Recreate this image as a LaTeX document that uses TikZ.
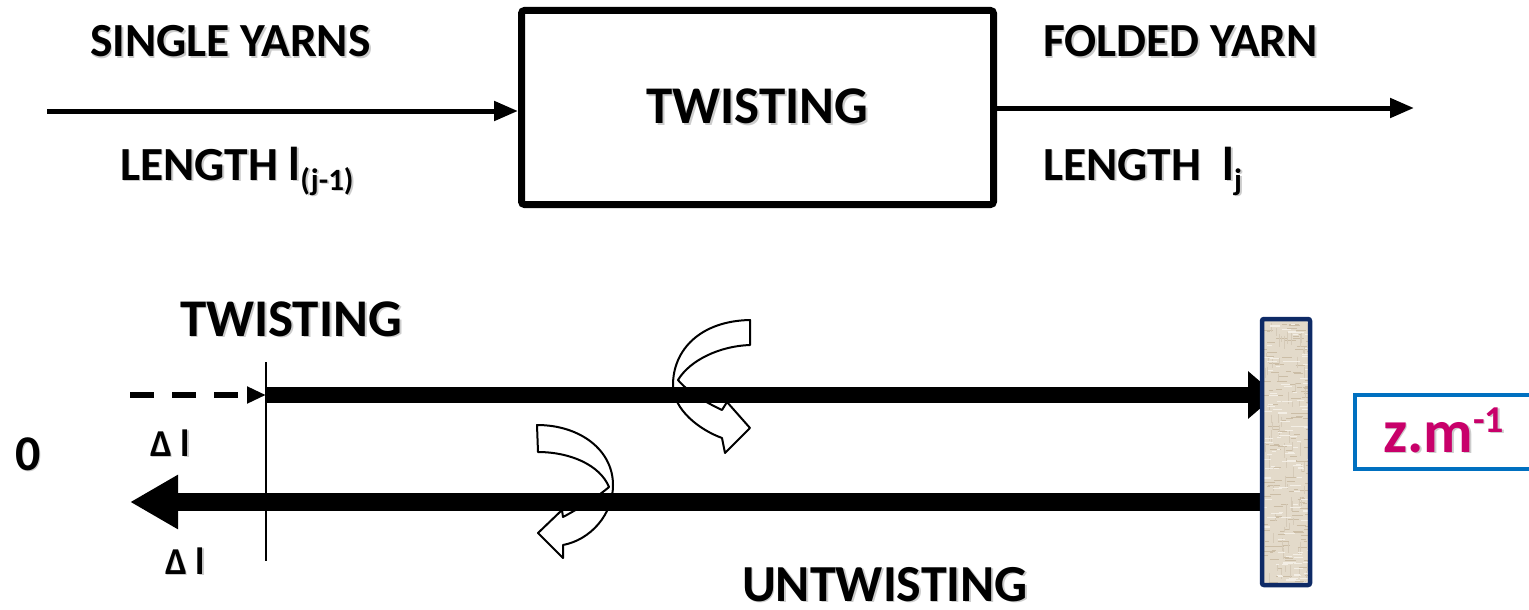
\documentclass[tikz,border=0pt]{standalone}
\usepackage{fontspec}
\setmainfont{Carlito}
\usepackage{graphicx}
\usetikzlibrary{arrows.meta}

\definecolor{postfill}{HTML}{E3DACA}
\definecolor{postdark}{HTML}{CBBDA6}
\definecolor{postlight}{HTML}{F3EEE5}
\definecolor{postedge}{HTML}{0E2A66}
\definecolor{rateedge}{HTML}{0070C0}
\definecolor{ratetext}{HTML}{C8006A}

% bold text with a soft grey drop shadow
\newcommand{\shtext}[1]{\makebox[0pt][l]{\kern1.8pt\raisebox{-1.8pt}{\textcolor{black!20}{#1}}}#1}

\tikzset{
  lbl/.style={inner sep=0pt, outer sep=0pt, anchor=base west,
              font=\bfseries\fontsize{47.5}{52}\selectfont},
  flowline/.style={line width=5pt, -{Triangle[length=24pt,width=19pt]}},
  procbox/.style={draw, line width=7pt, rounded corners=3pt, inner sep=0pt,
                  minimum width=472pt, minimum height=194pt,
                  font=\bfseries\fontsize{53}{58}\selectfont},
  yarnline/.style={line width=16pt},
  dashline/.style={line width=5.5pt, dash pattern=on 24pt off 18pt,
                   -{Triangle[length=19pt,width=16pt]}},
  twistarrow/.style={draw=black, fill=white, line width=2pt, line join=round},
  post/.style={fill=postfill, inner sep=0pt, outer sep=0pt,
               minimum width=48pt, minimum height=266pt},
  ratebox/.style={draw=rateedge, line width=4pt, inner sep=0pt, outer sep=0pt,
                  minimum width=190pt, minimum height=74pt},
}

\begin{document}
\begin{tikzpicture}[x=1pt, y=-1pt]
\useasboundingbox (0,0) rectangle (1529,610);

% ---------- upper block diagram ----------
\node[procbox] (box) at (757.5,107.5) {\shtext{TWISTING}};

\coordinate (in0) at (47,111);
\coordinate (out1) at (1414,108);
\draw[flowline] (in0) -- (box.west |- in0);
\draw[flowline] (box.east |- out1) -- (out1);

\node[lbl] (single) at (90,57) {\shtext{SINGLE YARNS}};
\node[lbl] (lenin) at (120,180)
  {\shtext{LENGTH l\raisebox{-10pt}{\fontsize{31}{31}\selectfont(j-1)}}};
\node[lbl] (folded) at (1043,57) {\shtext{FOLDED YARN}};
\node[lbl] (lenout) at (1043,180)
  {\shtext{LENGTH\ \ l\raisebox{-10pt}{\fontsize{31}{31}\selectfont j}}};

% ---------- lower sketch: twisting / untwisting ----------
% twist symbols (drawn first, the yarns pass over them)
\draw[twistarrow] (750,320) .. controls (700,321) and (673,350) .. (673,385)
  .. controls (673,410) and (700,430) .. (722,438)
  -- (725,453) -- (750,428) -- (727,402) -- (722,410)
  .. controls (705,402) and (688,392) .. (678,380)
  .. controls (690,360) and (720,346) .. (750,345) -- cycle;
\draw[twistarrow] (537,425) .. controls (580,425) and (613,450) .. (613,485)
  .. controls (613,515) and (590,540) .. (563,545)
  -- (563,558) -- (538,533) -- (562,510) -- (563,517)
  .. controls (580,508) and (600,495) .. (609,487)
  .. controls (600,465) and (570,452) .. (538,452) -- cycle;

% the fixed end
\node[post] (post) at (1286,452) {};

\coordinate (t0) at (266,395);
\coordinate (d0) at (130,395);
\coordinate (u1) at (130,502);
\coordinate (v0) at (266,362);
\coordinate (v1) at (266,561);

\draw[yarnline, -{Triangle[length=28pt,width=46pt]}, shorten >=-14pt]
  (t0) -- (post.west |- t0);
\draw[line width=18pt, -{Triangle[length=48pt,width=51pt]}]
  (post.west |- u1) -- (u1);
\draw[dashline] (d0) -- (t0);
\draw[line width=2pt] (v0) -- (v1);

% canvas texture of the fixed end
\begin{scope}
  \clip ([xshift=2pt,yshift=2pt]post.south west)
        rectangle ([xshift=-2pt,yshift=-2pt]post.north east);
  \fill[postfill] (post.south west) rectangle (post.north east);
  \pgfmathsetseed{17}
  \foreach \i in {1,...,150}{
    \pgfmathsetmacro\rx{1262+46*rnd}
    \pgfmathsetmacro\ry{319+266*rnd}
    \pgfmathsetmacro\rl{3+9*rnd}
    \draw[postdark, line width=0.9pt] (\rx,\ry) -- ++(\rl,0);
  }
  \foreach \i in {1,...,80}{
    \pgfmathsetmacro\rx{1262+46*rnd}
    \pgfmathsetmacro\ry{319+266*rnd}
    \pgfmathsetmacro\rl{4+10*rnd}
    \draw[postdark!80, line width=0.9pt] (\rx,\ry) -- ++(0,\rl);
  }
  \foreach \i in {1,...,120}{
    \pgfmathsetmacro\rx{1262+46*rnd}
    \pgfmathsetmacro\ry{319+266*rnd}
    \pgfmathsetmacro\rl{3+8*rnd}
    \draw[postlight, line width=1.1pt] (\rx,\ry) -- ++(\rl,0);
  }
\end{scope}
\draw[postedge, line width=4.5pt, rounded corners=2pt]
  (post.south west) rectangle (post.north east);

% rate box
\node[ratebox] (rate) at (1450,432) {};
\node[lbl, text=ratetext, font=\bfseries\fontsize{61}{66}\selectfont] (ratelbl) at (1383,452)
  {\shtext{z.m\raisebox{20pt}{\fontsize{38}{38}\selectfont -1}}};

% labels
\node[lbl, font=\bfseries\fontsize{53}{58}\selectfont] (twl) at (180,336)
  {\shtext{TWISTING}};
\node[lbl, font=\bfseries\fontsize{52}{56}\selectfont] (untw) at (742,601)
  {\shtext{UNTWISTING}};
\node[lbl, font=\bfseries\fontsize{38}{42}\selectfont] (dl1) at (150,456)
  {\shtext{Δ l}};
\node[lbl, font=\bfseries\fontsize{38}{42}\selectfont] (dl2) at (165,574)
  {\shtext{Δ l}};
\node[lbl, font=\bfseries\fontsize{50}{54}\selectfont] (zero) at (15,470)
  {\shtext{0}};
\end{tikzpicture}
\end{document}
